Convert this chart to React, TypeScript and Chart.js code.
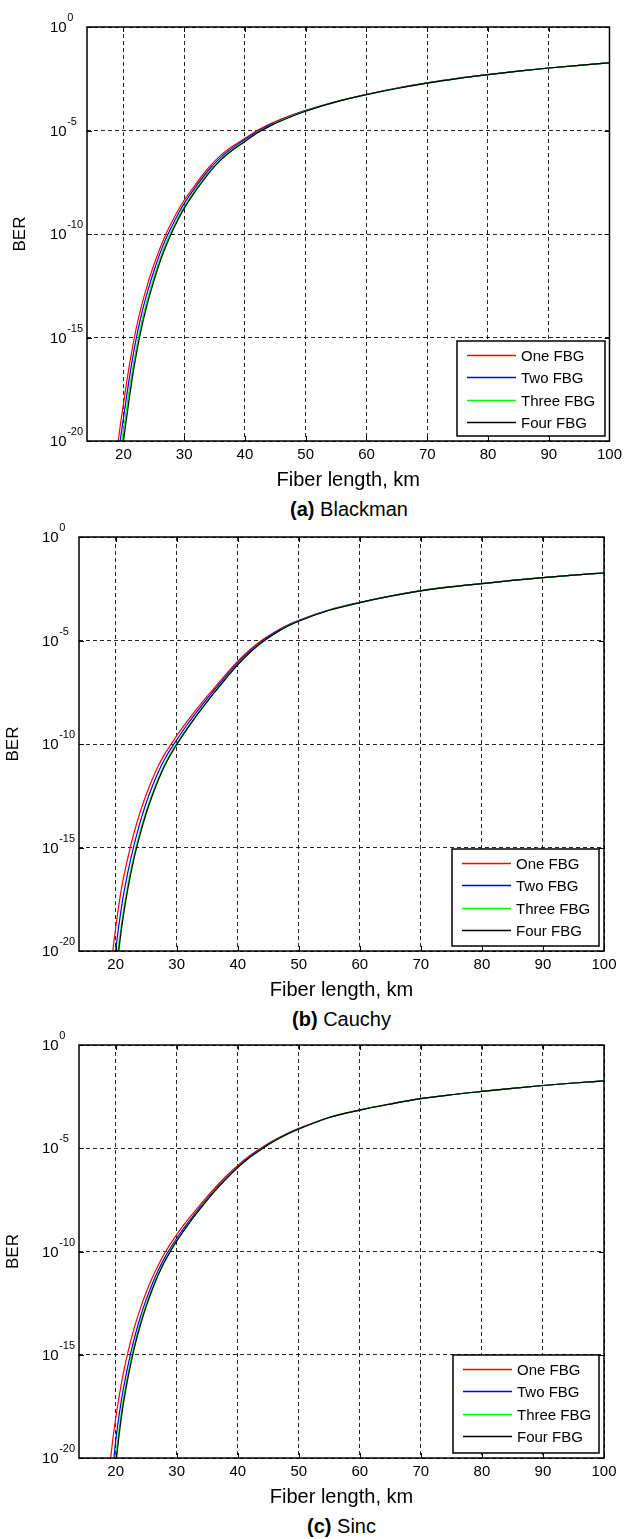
import React, { useEffect, useRef } from "react";
import { Chart, registerables } from "chart.js";

Chart.register(...registerables);

const FONT = "'Liberation Sans', Arial, Helvetica, sans-serif";
Chart.defaults.font.family = FONT;
Chart.defaults.color = "#000";

// ---------- data ----------
const fiberLengthKm = [19, 19.5, 20, 21, 22, 23, 24, 25, 26, 27, 28, 29, 30, 32, 34, 36, 38, 40, 42, 44, 46, 48, 50, 55, 60, 65, 70, 75, 80, 85, 90, 95, 100];
const xTickValues = [20, 30, 40, 50, 60, 70, 80, 90, 100];
const yTickExponents = [0, -5, -10, -15, -20];
const seriesNames = ["One FBG", "Two FBG", "Three FBG", "Four FBG"];
const seriesColors = ["#ff0000", "#0000ff", "#00ff00", "#000000"];

// log10(BER) values, panel (a) Blackman
const blackmanOneLog = [-20.3, -19.2, -18.2, -16.3, -14.7, -13.45, -12.4, -11.5, -10.7, -10.0, -9.4, -8.85, -8.37, -7.55, -6.8, -6.2, -5.75, -5.38, -5.0, -4.7, -4.45, -4.22, -4.02, -3.6, -3.25, -2.95, -2.7, -2.48, -2.3, -2.13, -1.98, -1.85, -1.73];
const blackmanTwoLog = [-21.0, -19.9, -18.9, -16.9, -15.2, -13.85, -12.75, -11.8, -10.95, -10.22, -9.6, -9.03, -8.52, -7.68, -6.92, -6.3, -5.83, -5.44, -5.05, -4.74, -4.48, -4.25, -4.04, -3.61, -3.26, -2.96, -2.7, -2.48, -2.3, -2.13, -1.98, -1.85, -1.73];
const blackmanThreeLog = [-21.6, -20.5, -19.5, -17.45, -15.7, -14.25, -13.1, -12.1, -11.2, -10.45, -9.8, -9.2, -8.68, -7.8, -7.02, -6.38, -5.9, -5.5, -5.1, -4.78, -4.51, -4.27, -4.06, -3.62, -3.27, -2.97, -2.71, -2.49, -2.3, -2.13, -1.98, -1.85, -1.73];
const blackmanFourLog = [-22.1, -21.0, -20.0, -17.85, -16.0, -14.5, -13.3, -12.28, -11.35, -10.58, -9.9, -9.3, -8.76, -7.87, -7.08, -6.43, -5.94, -5.53, -5.12, -4.8, -4.53, -4.29, -4.07, -3.62, -3.27, -2.97, -2.71, -2.49, -2.3, -2.13, -1.98, -1.85, -1.73];

// panel (b) Cauchy
const cauchyOneLog = [-21.6, -20.1, -18.9, -16.9, -15.5, -14.3, -13.3, -12.45, -11.7, -11.05, -10.5, -10.05, -9.6, -8.8, -8.05, -7.35, -6.66, -6.0, -5.45, -4.98, -4.6, -4.28, -4.02, -3.52, -3.16, -2.85, -2.59, -2.4, -2.25, -2.1, -1.96, -1.84, -1.74];
const cauchyTwoLog = [-23.0, -21.5, -20.0, -17.8, -16.2, -14.9, -13.8, -12.85, -12.05, -11.35, -10.75, -10.25, -9.8, -8.95, -8.18, -7.45, -6.74, -6.07, -5.5, -5.02, -4.63, -4.3, -4.04, -3.53, -3.17, -2.86, -2.6, -2.4, -2.25, -2.1, -1.96, -1.84, -1.74];
const cauchyThreeLog = [-24.2, -22.6, -21.0, -18.6, -16.8, -15.4, -14.25, -13.25, -12.4, -11.65, -11.0, -10.45, -9.97, -9.1, -8.3, -7.55, -6.83, -6.15, -5.56, -5.07, -4.67, -4.33, -4.06, -3.54, -3.17, -2.86, -2.6, -2.41, -2.25, -2.1, -1.96, -1.84, -1.74];
const cauchyFourLog = [-24.6, -23.0, -21.35, -18.85, -17.0, -15.55, -14.38, -13.36, -12.5, -11.74, -11.08, -10.52, -10.03, -9.15, -8.34, -7.58, -6.86, -6.17, -5.58, -5.08, -4.68, -4.34, -4.07, -3.54, -3.17, -2.86, -2.6, -2.41, -2.25, -2.1, -1.96, -1.84, -1.74];

// panel (c) Sinc
const sincOneLog = [-20.5, -19.2, -18.1, -16.3, -14.9, -13.75, -12.8, -11.98, -11.27, -10.65, -10.1, -9.62, -9.18, -8.4, -7.68, -7.0, -6.38, -5.83, -5.35, -4.95, -4.6, -4.3, -4.04, -3.5, -3.14, -2.85, -2.6, -2.41, -2.25, -2.1, -1.96, -1.84, -1.74];
const sincTwoLog = [-22.3, -20.7, -19.2, -17.1, -15.55, -14.28, -13.22, -12.33, -11.57, -10.9, -10.32, -9.82, -9.36, -8.54, -7.79, -7.09, -6.46, -5.89, -5.4, -4.99, -4.63, -4.32, -4.06, -3.51, -3.15, -2.86, -2.6, -2.41, -2.25, -2.1, -1.96, -1.84, -1.74];
const sincThreeLog = [-23.2, -21.6, -20.0, -17.65, -15.95, -14.6, -13.5, -12.57, -11.77, -11.07, -10.46, -9.94, -9.46, -8.62, -7.86, -7.14, -6.5, -5.93, -5.43, -5.01, -4.65, -4.33, -4.07, -3.51, -3.15, -2.86, -2.6, -2.41, -2.25, -2.1, -1.96, -1.84, -1.74];
const sincFourLog = [-23.6, -22.0, -20.4, -17.9, -16.15, -14.75, -13.62, -12.67, -11.85, -11.13, -10.51, -9.98, -9.5, -8.65, -7.88, -7.16, -6.52, -5.94, -5.44, -5.02, -4.65, -4.33, -4.07, -3.51, -3.15, -2.86, -2.6, -2.41, -2.25, -2.1, -1.96, -1.84, -1.74];

// ---------- layout ----------
type Panel = {
  key: string;
  letter: string;
  name: string;
  series: number[][];
  plotLeft: number;
  plotTop: number;
  plotRight: number;
  plotBottom: number;
  berX: number;
  legend: { insetRight: number; insetBottom: number; w: number; h: number };
};

const panels: Panel[] = [
  {
    key: "a", letter: "(a)", name: "Blackman",
    series: [blackmanOneLog, blackmanTwoLog, blackmanThreeLog, blackmanFourLog],
    plotLeft: 87, plotTop: 27, plotRight: 611, plotBottom: 441, berX: 20,
    legend: { insetRight: 4, insetBottom: 5, w: 148, h: 95 },
  },
  {
    key: "b", letter: "(b)", name: "Cauchy",
    series: [cauchyOneLog, cauchyTwoLog, cauchyThreeLog, cauchyFourLog],
    plotLeft: 79, plotTop: 537, plotRight: 604, plotBottom: 951, berX: 13,
    legend: { insetRight: 5, insetBottom: 5, w: 147, h: 97 },
  },
  {
    key: "c", letter: "(c)", name: "Sinc",
    series: [sincOneLog, sincTwoLog, sincThreeLog, sincFourLog],
    plotLeft: 79, plotTop: 1045, plotRight: 604, plotBottom: 1458, berX: 13,
    legend: { insetRight: 5, insetBottom: 5, w: 146, h: 98 },
  },
];

const TOP_SPACE = 27;
const BOTTOM_SPACE = 52;

const framePlugin = {
  id: "matlabFrame",
  afterDraw(chart: any, _args: any, opts: any) {
    const { ctx, chartArea: a, scales } = chart;
    const xs = scales.x;
    const ys = scales.y;
    ctx.save();

    // inward tick marks
    ctx.strokeStyle = "#000";
    ctx.lineWidth = 1;
    ctx.setLineDash([]);
    ctx.beginPath();
    for (const v of xTickValues) {
      const px = Math.round(xs.getPixelForValue(v)) + 0.5;
      ctx.moveTo(px, a.bottom);
      ctx.lineTo(px, a.bottom - 5);
      ctx.moveTo(px, a.top);
      ctx.lineTo(px, a.top + 5);
    }
    for (const e of yTickExponents) {
      const py = Math.round(ys.getPixelForValue(Math.pow(10, e))) + 0.5;
      ctx.moveTo(a.left, py);
      ctx.lineTo(a.left + 5, py);
      ctx.moveTo(a.right, py);
      ctx.lineTo(a.right - 5, py);
    }
    ctx.stroke();

    // legend
    const lg = opts.legend;
    const lx = Math.round(a.right - lg.insetRight - lg.w);
    const ly = Math.round(a.bottom - lg.insetBottom - lg.h);
    ctx.fillStyle = "#fff";
    ctx.fillRect(lx, ly, lg.w, lg.h);
    ctx.lineWidth = 1.5;
    ctx.strokeStyle = "#000";
    ctx.strokeRect(lx, ly, lg.w, lg.h);
    ctx.font = `15px ${FONT}`;
    ctx.textBaseline = "middle";
    ctx.textAlign = "left";
    chart.data.datasets.forEach((ds: any, i: number) => {
      const ry = Math.round(ly + 13.5 + i * 22.5) + 0.5;
      ctx.strokeStyle = seriesColors[i];
      ctx.lineWidth = 1.4;
      ctx.beginPath();
      ctx.moveTo(lx + 10, ry);
      ctx.lineTo(lx + 59, ry);
      ctx.stroke();
      ctx.fillStyle = "#000";
      ctx.fillText(ds.label, lx + 64, ry + 1);
    });

    // axes box
    ctx.strokeStyle = "#000";
    ctx.lineWidth = 1.5;
    ctx.strokeRect(a.left, a.top, a.right - a.left, a.bottom - a.top);

    // y tick labels 10^e
    ctx.fillStyle = "#000";
    ctx.textAlign = "left";
    ctx.textBaseline = "middle";
    for (const e of yTickExponents) {
      const py = ys.getPixelForValue(Math.pow(10, e));
      const bx = a.left - 37;
      ctx.font = `15px ${FONT}`;
      ctx.fillText("10", bx, py + 1);
      const w = ctx.measureText("10").width;
      ctx.font = `11px ${FONT}`;
      ctx.fillText(String(e), bx + w + 0.5, py - 9);
    }
    ctx.restore();
  },
};

function ChartPanel({ p }: { p: Panel }) {
  const ref = useRef<HTMLCanvasElement>(null);
  const canvasTop = p.plotTop - TOP_SPACE;
  const canvasH = p.plotBottom + BOTTOM_SPACE - canvasTop;

  useEffect(() => {
    const canvas = ref.current;
    if (!canvas) return;
    const plotB = p.plotBottom - canvasTop;
    const chart = new Chart(canvas, {
      type: "line",
      data: {
        datasets: p.series.map((logs, i) => ({
          label: seriesNames[i],
          data: fiberLengthKm.map((x, j) => ({ x, y: Math.pow(10, logs[j]) })),
          borderColor: seriesColors[i],
          backgroundColor: seriesColors[i],
          borderWidth: 1.2,
          pointRadius: 0,
          fill: false,
          cubicInterpolationMode: "monotone",
          order: 3 - i,
        })),
      },
      options: {
        responsive: false,
        animation: false,
        events: [],
        layout: { padding: { left: 0, top: TOP_SPACE, right: 627 - p.plotRight, bottom: 0 } },
        plugins: {
          legend: { display: false },
          tooltip: { enabled: false },
          matlabFrame: { legend: p.legend },
        } as any,
        scales: {
          x: {
            type: "linear",
            min: 14,
            max: 100,
            afterBuildTicks: (s: any) => {
              s.ticks = xTickValues.map((v) => ({ value: v }));
            },
            afterFit: (s: any) => {
              s.height = canvasH - plotB;
            },
            grid: { color: "rgba(0,0,0,0.85)", lineWidth: 1, drawTicks: false },
            border: { display: false, dash: [4, 3] },
            ticks: { font: { size: 15 }, color: "#000", padding: 5, maxRotation: 0, autoSkip: false },
            title: {
              display: true,
              text: "Fiber length, km",
              font: { size: 20 },
              color: "#000",
              padding: { top: 0, bottom: 1 },
            },
          },
          y: {
            type: "logarithmic",
            min: 1e-20,
            max: 1,
            afterBuildTicks: (s: any) => {
              s.ticks = yTickExponents.map((e) => ({ value: Math.pow(10, e) }));
            },
            afterFit: (s: any) => {
              s.width = p.plotLeft;
            },
            grid: { color: "rgba(0,0,0,0.85)", lineWidth: 1, drawTicks: false },
            border: { display: false, dash: [4, 3] },
            ticks: { display: false },
            title: {
              display: true,
              text: "BER",
              font: { size: 17 },
              color: "#000",
              padding: { top: p.berX - 10.2, bottom: 0 },
            },
          },
        },
      } as any,
      plugins: [framePlugin],
    });
    return () => chart.destroy();
  }, []);

  return (
    <>
      <canvas
        ref={ref}
        width={627}
        height={canvasH}
        style={{ position: "absolute", left: 0, top: canvasTop, width: 627, height: canvasH }}
      />
      <div
        style={{
          position: "absolute",
          left: p.plotLeft,
          width: p.plotRight - p.plotLeft,
          top: p.plotBottom + 68 - 12,
          height: 24,
          lineHeight: "24px",
          textAlign: "center",
          fontFamily: FONT,
          fontSize: 20,
          color: "#000",
          whiteSpace: "nowrap",
        }}
      >
        <span style={{ fontWeight: "bold" }}>{p.letter}</span> {p.name}
      </div>
    </>
  );
}

export default function App() {
  return (
    <div style={{ position: "absolute", left: 0, top: 0, width: 627, height: 1539, background: "#fff" }}>
      {panels.map((p) => (
        <ChartPanel key={p.key} p={p} />
      ))}
    </div>
  );
}
